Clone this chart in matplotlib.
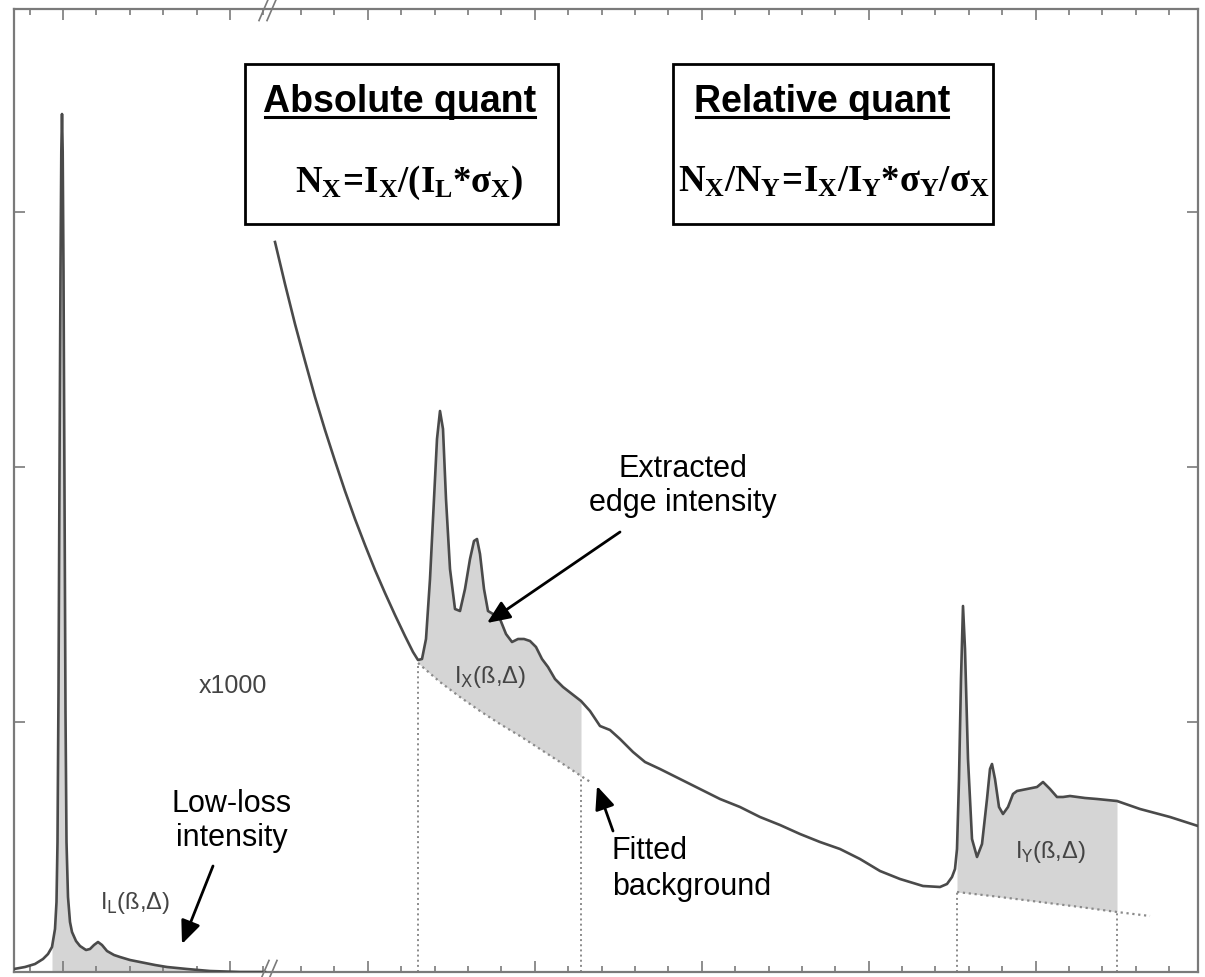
import matplotlib.pyplot as plt
import numpy as np
from matplotlib.lines import Line2D
from matplotlib.patches import Rectangle
from matplotlib.transforms import IdentityTransform

# bold Times-like face for the quantification formulas
plt.rcParams['mathtext.fontset'] = 'custom'
plt.rcParams['mathtext.rm'] = 'Liberation Serif:bold'
plt.rcParams['mathtext.it'] = 'Liberation Serif:bold'
plt.rcParams['mathtext.bf'] = 'Liberation Serif:bold'

# low-loss part of the spectrum (zero-loss peak + plasmon)
ll_energy = [14, 25, 35, 43, 48, 52, 55, 56.5, 57.5, 58.5, 59.5, 60.5, 61.3, 62,
             62.7, 63.5, 64.5, 65.5, 66.5, 68, 70, 72, 76, 80, 86, 90, 94, 98,
             102, 107, 114, 120, 130, 140, 155, 167, 187, 210, 240, 265]
ll_counts = [3, 5, 8, 13, 18, 25, 43, 70, 130, 280, 500, 700, 820, 858,
             820, 700, 480, 260, 130, 75, 50, 40, 31, 26, 22, 23, 27, 30,
             27, 21, 17, 15, 12, 10, 7, 5, 3, 1, 0, 0]

# core-loss part (after the axis break, x1000) with edges X and Y
cl_energy = [275, 285, 295, 305, 315, 325, 335, 345, 355, 365, 375, 385, 395,
             405, 413, 418, 422,
             426, 430, 434, 437, 440, 443, 446, 450, 455, 460, 465, 470, 474,
             477, 480, 484, 488, 493, 500, 506, 512, 518, 524, 530, 536, 542,
             548, 555, 563, 572, 581, 590, 600, 610, 620, 633, 645, 660, 680,
             700, 720, 740, 760, 780, 800, 820, 840, 860, 880, 900, 923, 940,
             947, 952, 955, 957, 959, 961, 963, 965, 968, 972, 977, 982, 987,
             990, 992, 995, 999, 1003, 1008, 1013, 1017, 1027, 1037, 1043,
             1050, 1057, 1063, 1070, 1085, 1097, 1117, 1140, 1170, 1198]
cl_counts = [730, 688, 648, 611, 575, 542, 511, 481, 453, 427, 402, 379, 357,
             336, 320, 312, 313,
             333, 393, 473, 533, 561, 543, 473, 403, 363, 361, 383, 413, 431,
             433, 418, 383, 361, 358, 353, 338, 330, 333, 333, 331, 325, 313,
             305, 293, 285, 278, 271, 261, 246, 242, 233, 220, 210, 203, 193,
             183, 173, 165, 155, 147, 138, 130, 123, 113, 101, 93, 86, 85,
             88, 95, 103, 123, 193, 293, 366, 323, 213, 133, 115, 128, 173,
             203, 208, 193, 165, 158, 165, 178, 181, 183, 185, 190,
             183, 175, 175, 176, 174, 173, 171, 163, 155, 146]

# fitted backgrounds under the two edges
bgx_energy = [418, 440, 460, 480, 500, 520, 540, 560, 581, 592]
bgx_counts = [309, 290, 275, 261, 248, 236, 223, 210, 196, 189]
bgy_energy = [957, 1000, 1040, 1080, 1117, 1150]
bgy_counts = [80, 75, 70, 65, 60, 56]

# integration windows
ll_window = (52, 265)
x_window = (418, 581)
y_window = (957, 1117)

xmajor = [63, 230, 368, 535, 702, 869, 1036]
xminor = [30, 96, 130, 163, 197, 263, 301, 334, 401, 435, 468, 501, 568, 602,
          635, 668, 735, 769, 802, 835, 902, 935, 969, 1002, 1069, 1102, 1136,
          1169]
yticks = [250, 505, 760]

W, H = 1205, 978
fig = plt.figure(figsize=(W / 100, H / 100), dpi=100)
ax = fig.add_axes([14 / W, 1 - 973 / H, 1184 / W, 963 / H])
ax.set_xlim(14, 1198)
ax.set_ylim(0, 963)

line_c = '#4a4a4a'
fill_c = '#d5d5d5'
dot_c = '#8a8a8a'

# low-loss spectrum
ll_e = np.array(ll_energy, dtype=float)
ll_i = np.array(ll_counts, dtype=float)
xs = np.linspace(ll_window[0], ll_window[1], 400)
ax.fill_between(xs, 0, np.interp(xs, ll_e, ll_i), color=fill_c, lw=0, zorder=1)
ax.plot(ll_e, ll_i, color=line_c, lw=1.9, zorder=3)

# core-loss spectrum
cl_e = np.array(cl_energy, dtype=float)
cl_i = np.array(cl_counts, dtype=float)
for win, be, bc in [(x_window, bgx_energy, bgx_counts),
                    (y_window, bgy_energy, bgy_counts)]:
    xs = np.linspace(win[0], win[1], 400)
    ax.fill_between(xs, np.interp(xs, be, bc), np.interp(xs, cl_e, cl_i),
                    color=fill_c, lw=0, zorder=1)
    ax.plot(be, bc, ls=':', color=dot_c, lw=1.6, zorder=2)
    for e in win:
        ax.plot([e, e], [0, np.interp(e, be, bc)], ls=':', color=dot_c,
                lw=1.4, zorder=2)
ax.plot(cl_e, cl_i, color=line_c, lw=1.9, zorder=3)

# frame and ticks
for s in ax.spines.values():
    s.set_color('#7a7a7a')
    s.set_linewidth(1.6)
ax.set_xticks(xmajor)
ax.set_xticks(xminor, minor=True)
ax.set_yticks(yticks)
ax.tick_params(which='both', direction='in', top=True, right=True,
               labelbottom=False, labelleft=False, color='#7a7a7a', width=1.2)
ax.tick_params(which='major', length=8)
ax.tick_params(which='minor', length=4)

# axis break marks
for yb in (0, 1):
    for dx in (-4, 4):
        ax.plot([268 + dx - 5, 268 + dx + 5], [yb - 0.012, yb + 0.012],
                transform=ax.get_xaxis_transform(), color='#7a7a7a', lw=1.2,
                clip_on=False, zorder=5)

# gray labels on the spectrum
lab = dict(family='Liberation Sans', color='#444444', fontsize=17,
           ha='center', va='center', math_fontfamily='dejavusans')
ax.text(233, 287, 'x1000', **{**lab, 'fontsize': 18})
ax.text(135, 70, r'I$_\mathrm{L}$(ß,Δ)', **lab)
ax.text(490, 296, r'I$_\mathrm{X}$(ß,Δ)', **lab)
ax.text(1050, 121, r'I$_\mathrm{Y}$(ß,Δ)', **lab)

# annotations with arrows
ann = dict(family='Liberation Sans', fontsize=22, color='black')
arrow = dict(arrowstyle='-|>,head_length=1.4,head_width=0.6', color='black',
             lw=2, shrinkA=0, shrinkB=0)
ax.text(683, 487, 'Extracted\nedge intensity', ha='center', va='center',
        linespacing=1.2, **ann)
ax.annotate('', xy=(487, 349), xytext=(620, 440), arrowprops=arrow)
ax.text(232, 152, 'Low-loss\nintensity', ha='center', va='center',
        linespacing=1.2, **ann)
ax.annotate('', xy=(182, 28), xytext=(213, 106), arrowprops=arrow)
ax.text(612, 104, 'Fitted\nbackground', ha='left', va='center',
        linespacing=1.25, **ann)
ax.annotate('', xy=(597, 186), xytext=(613, 141), arrowprops=arrow)

# formula boxes
for x0, x1 in [(245, 558), (673, 993)]:
    ax.add_patch(Rectangle((x0, 973 - 225), x1 - x0, 160, fill=False,
                           ec='black', lw=2, zorder=6))
titles = [ax.text(400, 973 - 112, 'Absolute quant', ha='center', va='baseline',
                  family='Liberation Sans', weight='bold', fontsize=27),
          ax.text(822, 973 - 112, 'Relative quant', ha='center', va='baseline',
                  family='Liberation Sans', weight='bold', fontsize=27)]
ax.text(409, 973 - 192, r'$N_X\!=\!I_X/(I_L{*}\sigma_X)$', ha='center',
        va='baseline', fontsize=26.5, math_fontfamily='custom')
ax.text(834, 973 - 192, r'$N_X/N_Y\!=\!I_X/I_Y{*}\sigma_Y/\sigma_X$',
        ha='center', va='baseline', fontsize=26.5, math_fontfamily='custom')

# underline the box titles
fig.canvas.draw()
r = fig.canvas.get_renderer()
for t in titles:
    bb = t.get_window_extent(r)
    yline = H - 118
    fig.add_artist(Line2D([bb.x0 + 2, bb.x1 - 2], [yline, yline],
                          transform=IdentityTransform(), color='black', lw=2.2))

fig.savefig('out.png', dpi=100)
